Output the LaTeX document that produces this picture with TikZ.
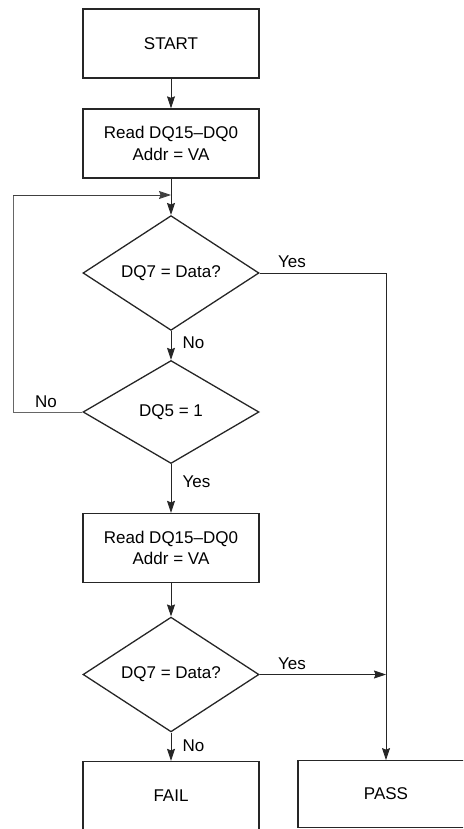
\documentclass[tikz,border=0pt]{standalone}
\usepackage{fontspec}
\setmainfont{Liberation Sans}
\usetikzlibrary{shapes.geometric,arrows.meta}
\begin{document}
\begin{tikzpicture}[x=1pt,y=-1pt,
  font=\fontsize{17}{21.5}\selectfont,
  box/.style={draw=black!85, line width=1.3pt, minimum width=176pt, minimum height=69pt, inner sep=0pt, align=center},
  dia/.style={draw=black!85, diamond, line width=1.3pt, minimum width=176pt, minimum height=103pt, inner sep=0pt, align=center},
  conn/.style={draw=black!85, line width=0.9pt},
  arr/.style={conn, -{Stealth[length=12pt,width=8pt,inset=1.5pt]}},
  lbl/.style={anchor=base, inner sep=0pt}]
\useasboundingbox (0,0) rectangle (463,829);
\clip (0,0) rectangle (463,829);
\node[box] (start) at (171,43.5) {START};
\node[box] (read1) at (171,143.5) {Read DQ15–DQ0\\Addr = VA};
\node[dia] (d1) at (171,273) {DQ7 = Data?};
\node[dia] (d2) at (171,412) {DQ5 = 1};
\node[box] (read2) at (171,548) {Read DQ15–DQ0\\Addr = VA};
\node[dia] (d3) at (171,674.5) {DQ7 = Data?};
\node[box] (fail) at (171,796) {FAIL};
\node[box, minimum height=66.5pt] (pass) at (386,794) {PASS};
\coordinate (j1) at (171,195);
\coordinate (la) at (13,412);
\coordinate (lb) at (13,195);
\coordinate (ya) at (386,273);
\coordinate (yb) at (386,674.5);
\draw[arr] (start) -- (read1);
\draw[arr] (read1) -- (d1);
\draw[arr] (d1) -- (d2);
\draw[arr] (d2) -- (read2);
\draw[arr] (read2) -- (d3);
\draw[arr] (d3) -- (fail);
\draw[conn, draw=black!60] (d2.west) -- (la) -- (lb);
\draw[arr, draw=black!75] (lb) -- (j1);
\draw[conn] (d1.east) -- (ya);
\draw[arr] (ya) -- (pass);
\draw[arr] (d3.east) -- (yb);
\node[lbl] at (292,267) {Yes};
\node[lbl] at (193.5,348) {No};
\node[lbl] at (46,407) {No};
\node[lbl] at (196.5,487) {Yes};
\node[lbl] at (292,669) {Yes};
\node[lbl] at (193.5,751) {No};
\end{tikzpicture}
\end{document}
